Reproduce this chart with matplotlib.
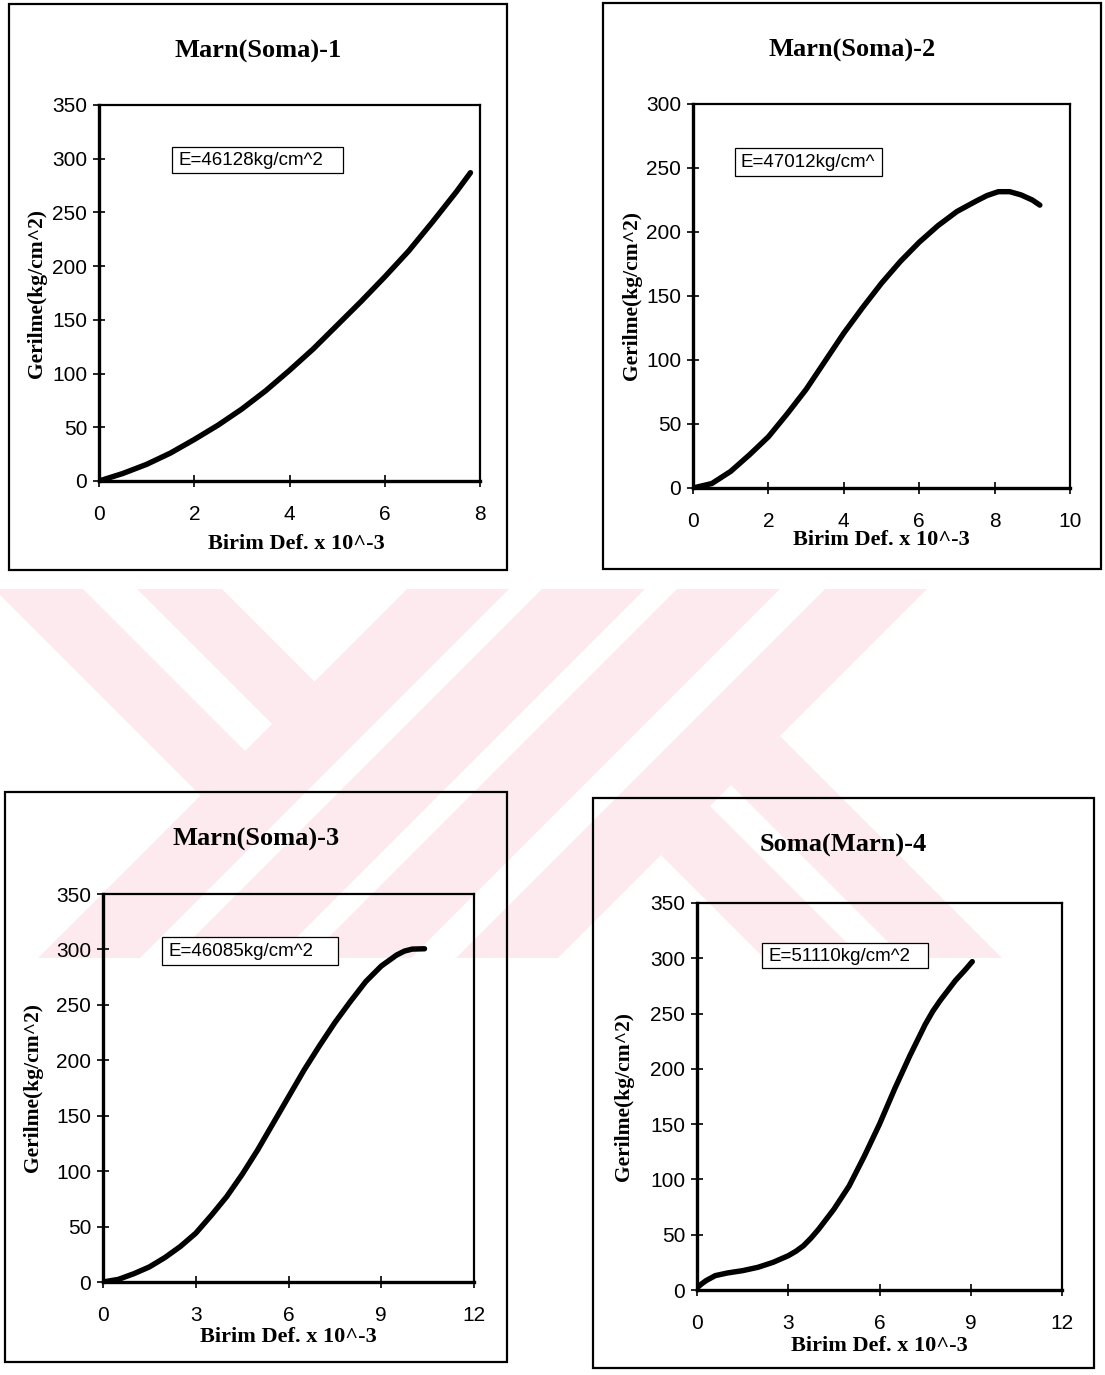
import matplotlib
matplotlib.use('Agg')
import matplotlib.pyplot as plt
from matplotlib.patches import Polygon, Rectangle

W, H = 1105, 1375

# --- data ---
titles = ['Marn(Soma)-1', 'Marn(Soma)-2', 'Marn(Soma)-3', 'Soma(Marn)-4']
moduli = ['E=46128kg/cm^2', 'E=47012kg/cm^', 'E=46085kg/cm^2', 'E=51110kg/cm^2']

strain1 = [0, 0.5, 1, 1.5, 2, 2.5, 3, 3.5, 4, 4.5, 5, 5.5, 6, 6.5, 7, 7.5, 7.8]
stress1 = [0, 7, 15.5, 26, 38.6, 52, 67, 84, 103, 123, 145, 167, 190, 214, 241, 269, 287]

strain2 = [0, 0.5, 1, 1.5, 2, 2.5, 3, 3.5, 4, 4.5, 5, 5.5, 6, 6.5, 7, 7.5, 7.8, 8.1, 8.4, 8.7, 9, 9.2]
stress2 = [0, 3.5, 13, 26, 40, 58, 77, 99, 121, 141, 160, 177, 192, 205, 216, 224, 228.5, 231.5, 231.5, 229, 225, 221]

strain3 = [0, 0.5, 1, 1.5, 2, 2.5, 3, 3.5, 4, 4.5, 5, 5.5, 6, 6.5, 7, 7.5, 8, 8.5, 9, 9.5, 9.75, 10, 10.4]
stress3 = [0, 2.4, 7.5, 13.6, 22, 32, 44, 60, 77, 97, 119, 143, 167, 191, 213, 234, 253, 271, 285, 295, 298.5, 300.3, 300.6]

strain4 = [0, 0.15, 0.3, 0.6, 1, 1.5, 2, 2.5, 3, 3.25, 3.5, 3.75, 4, 4.5, 5, 5.5, 6, 6.5, 7, 7.25, 7.5, 7.75, 8, 8.5, 8.8, 9.05]
stress4 = [2, 5.5, 8.5, 13, 15.4, 17.5, 20.5, 25, 31, 35, 40, 47, 55, 73, 94, 121, 150, 182, 212, 226, 240, 252, 262, 280, 289, 297]

strains = [strain1, strain2, strain3, strain4]
stresses = [stress1, stress2, stress3, stress4]
x_max = [8, 10, 12, 12]
x_step = [2, 2, 3, 3]
y_max = [350, 300, 350, 350]

# --- layout in page pixels ---
outer = [(9, 4, 507, 570), (603, 3, 1101, 569), (5, 792, 507, 1362), (593, 798, 1094, 1368)]
plot_area = [(99, 105, 480, 481), (693, 104, 1070, 488), (103, 894, 474, 1282), (697, 903, 1062, 1290)]
note_box = [(172, 147, 343, 173), (735, 148, 882, 176), (162, 937, 338, 965), (762, 943, 928, 968)]
ylab_x = [-0.163, -0.162, -0.189, -0.2]
xlab_pos = [(0.517, -0.168), (0.5, -0.135), (0.5, -0.141), (0.5, -0.145)]

serif = 'Liberation Serif'
sans = 'Liberation Sans'

fig = plt.figure(figsize=(W / 100, H / 100), dpi=100)

# page background: faint watermark, chart frames and the note boxes
bg = fig.add_axes([0, 0, 1, 1], zorder=-10)
bg.set_xlim(0, W)
bg.set_ylim(H, 0)
bg.axis('off')

pink = '#fdeaee'
y0, y1 = 589, 958
edge = 996
# upper-left "\" bands, ending where the "/" field starts
for a, b in [(-595, -506), (-452, -367)]:
    bg.add_patch(Polygon([(a + y0, y0), (b + y0, y0), ((b + edge) / 2, (edge - b) / 2), ((a + edge) / 2, (edge - a) / 2)],
                         fc=pink, ec='none'))
# "/" bands
for a, b in [(996, 1098), (1131, 1234), (1266, 1369), (1414, 1516)]:
    bg.add_patch(Polygon([(a - y0, y0), (b - y0, y0), (b - y1, y1), (a - y1, y1)], fc=pink, ec='none'))
# lower-right "\" legs
c = 1516
for a, b in [(-54, 44), (-194, -96)]:
    bg.add_patch(Polygon([((a + c) / 2, (c - a) / 2), ((b + c) / 2, (c - b) / 2), (b + y1, y1), (a + y1, y1)],
                         fc=pink, ec='none'))

for (l, t, r, b) in outer:
    bg.add_patch(Rectangle((l, t), r - l, b - t, fill=False, ec='black', lw=1.6))

for i in range(4):
    l, t, r, b = note_box[i]
    bg.add_patch(Rectangle((l, t), r - l, b - t, fc='white', ec='black', lw=0.9))
    bg.text(l + 6, (t + b) / 2 + 0.5, moduli[i], ha='left', va='center', fontfamily=sans, fontsize=13.5)

for i in range(4):
    l, t, r, b = plot_area[i]
    ax = fig.add_axes([l / W, 1 - b / H, (r - l) / W, (b - t) / H])
    ax.set_facecolor('none')
    ax.plot(strains[i], stresses[i], color='black', lw=3.9, solid_capstyle='round', solid_joinstyle='round')
    ax.set_xlim(0, x_max[i])
    ax.set_ylim(0, y_max[i])
    ax.set_xticks(range(0, x_max[i] + 1, x_step[i]))
    ax.set_yticks(range(0, y_max[i] + 1, 50))
    ax.tick_params(direction='inout', length=9, width=1.2, labelsize=15)
    ax.tick_params(axis='x', pad=13)
    ax.tick_params(axis='y', pad=4)
    for lab in ax.get_xticklabels() + ax.get_yticklabels():
        lab.set_fontfamily(sans)
    for side in ['left', 'bottom']:
        ax.spines[side].set_linewidth(2.4)
    for side in ['top', 'right']:
        ax.spines[side].set_linewidth(1.6)

    ax.set_ylabel('Gerilme(kg/cm^2)', fontfamily=serif, fontweight='bold', fontsize=15.5, va='center')
    ax.yaxis.set_label_coords(ylab_x[i], 0.5)
    ax.set_xlabel('Birim Def. x 10^-3', fontfamily=serif, fontweight='bold', fontsize=16, va='center')
    ax.xaxis.set_label_coords(*xlab_pos[i])

    ol, ot, orr, ob = outer[i]
    fig.text((ol + orr) / 2 / W, 1 - (ot + 47) / H, titles[i], ha='center', va='center',
             fontfamily=serif, fontweight='bold', fontsize=19)

fig.savefig('out.png', dpi=100)
plt.close()
